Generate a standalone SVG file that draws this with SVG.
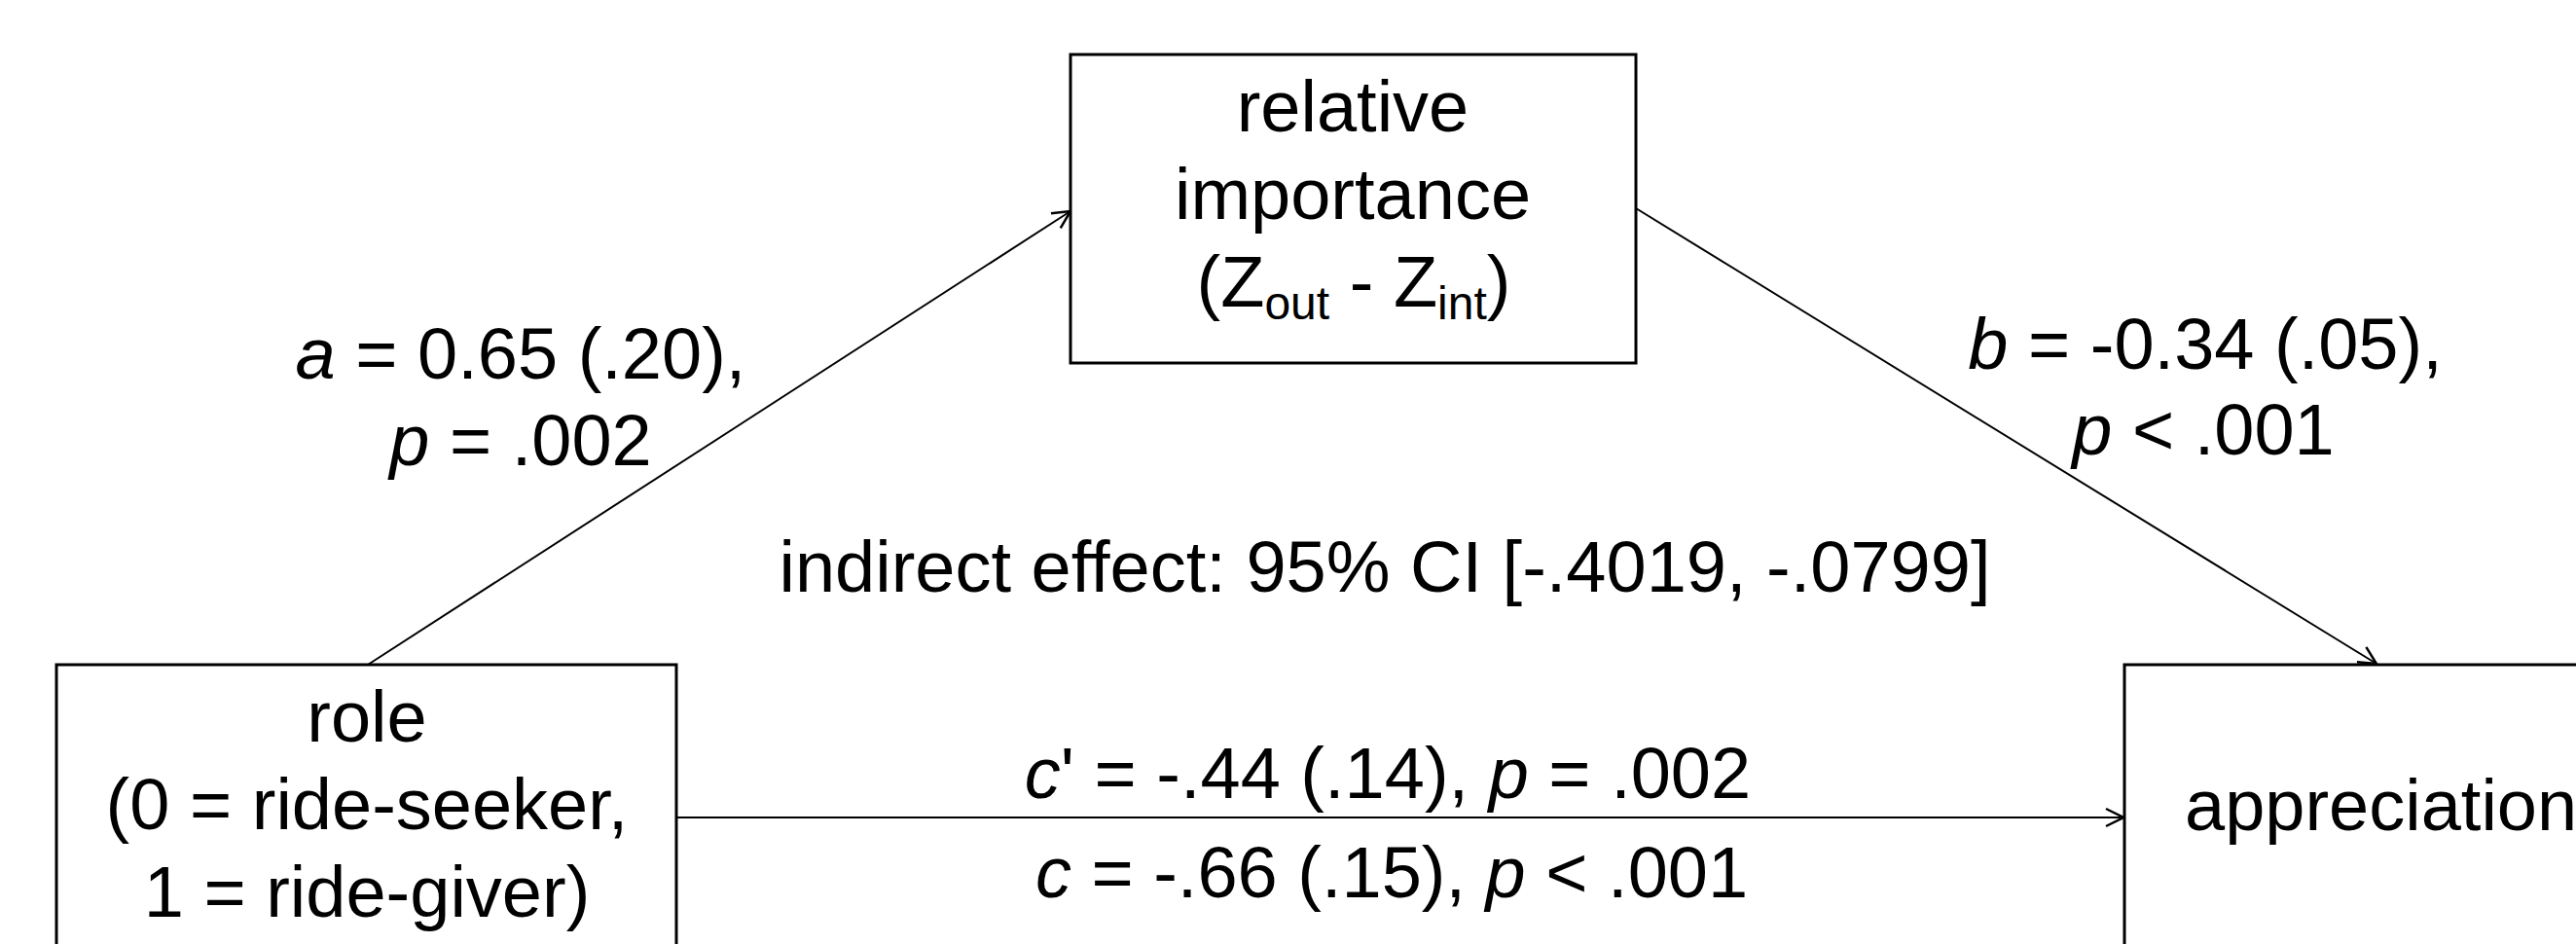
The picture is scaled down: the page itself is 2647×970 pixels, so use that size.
<svg xmlns="http://www.w3.org/2000/svg" width="2647" height="970" viewBox="0 0 2647 970">
<defs>
<style>
.box{fill:#fff;stroke:#000;stroke-width:3}
.ln{fill:none;stroke:#000;stroke-width:2}
text{font-family:"Liberation Sans",Arial,sans-serif;font-size:74px;fill:#000}
.c{text-anchor:middle}
.sub{font-size:48px}
</style>
<marker id="arr" viewBox="-20 -11 22 22" refX="0" refY="0" markerWidth="22" markerHeight="22" markerUnits="userSpaceOnUse" orient="auto">
<path d="M-18,-9 L0,0 L-18,9" fill="none" stroke="#000" stroke-width="2.5"/>
</marker>
</defs>
<rect width="2647" height="970" fill="#fff"/>
<g id="connectors">
<line class="ln" x1="378" y1="683" x2="1100" y2="217" marker-end="url(#arr)"/>
<line class="ln" x1="1681" y1="214" x2="2442" y2="682" marker-end="url(#arr)"/>
<line class="ln" x1="695" y1="840" x2="2182" y2="840" marker-end="url(#arr)"/>
</g>
<g id="node-mediator">
<rect class="box" x="1100" y="56" width="581" height="317"/>
<text class="c" x="1390" y="135">relative</text>
<text class="c" x="1390" y="225">importance</text>
<text class="c" x="1391" y="315">(Z<tspan class="sub" dy="13">out</tspan><tspan dy="-13"> - Z</tspan><tspan class="sub" dy="13">int</tspan><tspan dy="-13">)</tspan></text>
</g>
<g id="node-role">
<rect class="box" x="58" y="683" width="637" height="400"/>
<text class="c" x="377" y="762">role</text>
<text class="c" x="377" y="852">(0 = ride-seeker,</text>
<text class="c" x="377" y="942">1 = ride-giver)</text>
</g>
<g id="node-appreciation">
<rect class="box" x="2183" y="683" width="600" height="400"/>
<text x="2245" y="853">appreciation</text>
</g>
<g id="labels">
<text class="c" x="535" y="389"><tspan font-style="italic">a</tspan> = 0.65 (.20),</text>
<text class="c" x="535" y="478"><tspan font-style="italic">p</tspan> = .002</text>
<text class="c" x="2266" y="379"><tspan font-style="italic">b</tspan> = -0.34 (.05),</text>
<text class="c" x="2264" y="467"><tspan font-style="italic">p</tspan> &lt; .001</text>
<text class="c" x="1423" y="608">indirect effect: 95% CI [-.4019, -.0799]</text>
<text class="c" x="1426" y="820"><tspan font-style="italic">c</tspan>' = -.44 (.14), <tspan font-style="italic">p</tspan> = .002</text>
<text class="c" x="1430" y="922"><tspan font-style="italic">c</tspan> = -.66 (.15), <tspan font-style="italic">p</tspan> &lt; .001</text>
</g>
</svg>
